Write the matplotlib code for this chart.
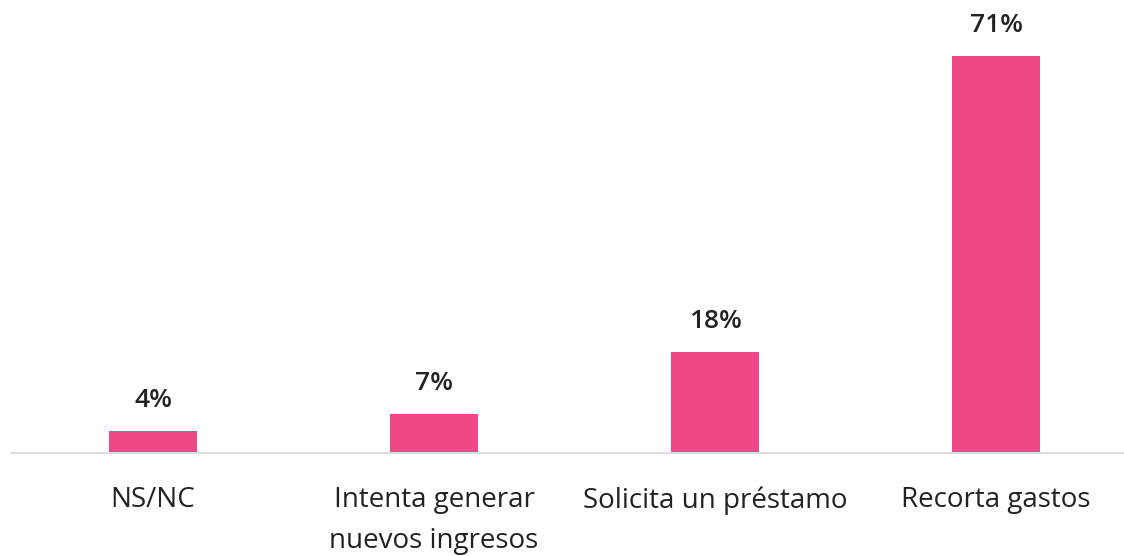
import matplotlib
matplotlib.use('Agg')
import matplotlib.pyplot as plt
import numpy as np

categories = ['NS/NC', 'Intenta generar\nnuevos ingresos', 'Solicita un préstamo', 'Recorta gastos']
values = [4, 7, 18, 71]
value_labels = ['4%', '7%', '18%', '71%']

plt.rcParams['font.family'] = ['Open Sans', 'DejaVu Sans']

fig = plt.figure(figsize=(11.24, 5.56), dpi=100)
ax = fig.add_axes([12 / 1124, 1 - 453 / 556, 1112 / 1124, 453 / 556])

x = np.arange(len(categories))
ax.bar(x, values, width=0.313, color='#EE4887')

for xi, v, lab in zip(x, values, value_labels):
    ax.annotate(lab, (xi, v), xytext=(0, 18), textcoords='offset pixels',
                ha='center', va='bottom', fontsize=19, fontweight='semibold', color='#222222')

ax.set_xlim(-0.502, 3.455)
ax.set_ylim(0, 81)
ax.set_xticks(x)
ax.set_xticklabels(categories, fontsize=20, color='#222222', linespacing=1.6)
ax.tick_params(axis='x', length=0, pad=24)
ax.set_yticks([])
for side in ['top', 'right', 'left']:
    ax.spines[side].set_visible(False)
ax.spines['bottom'].set_color('#dddddd')
ax.spines['bottom'].set_linewidth(1.5)

fig.savefig('out.png', dpi=100)
